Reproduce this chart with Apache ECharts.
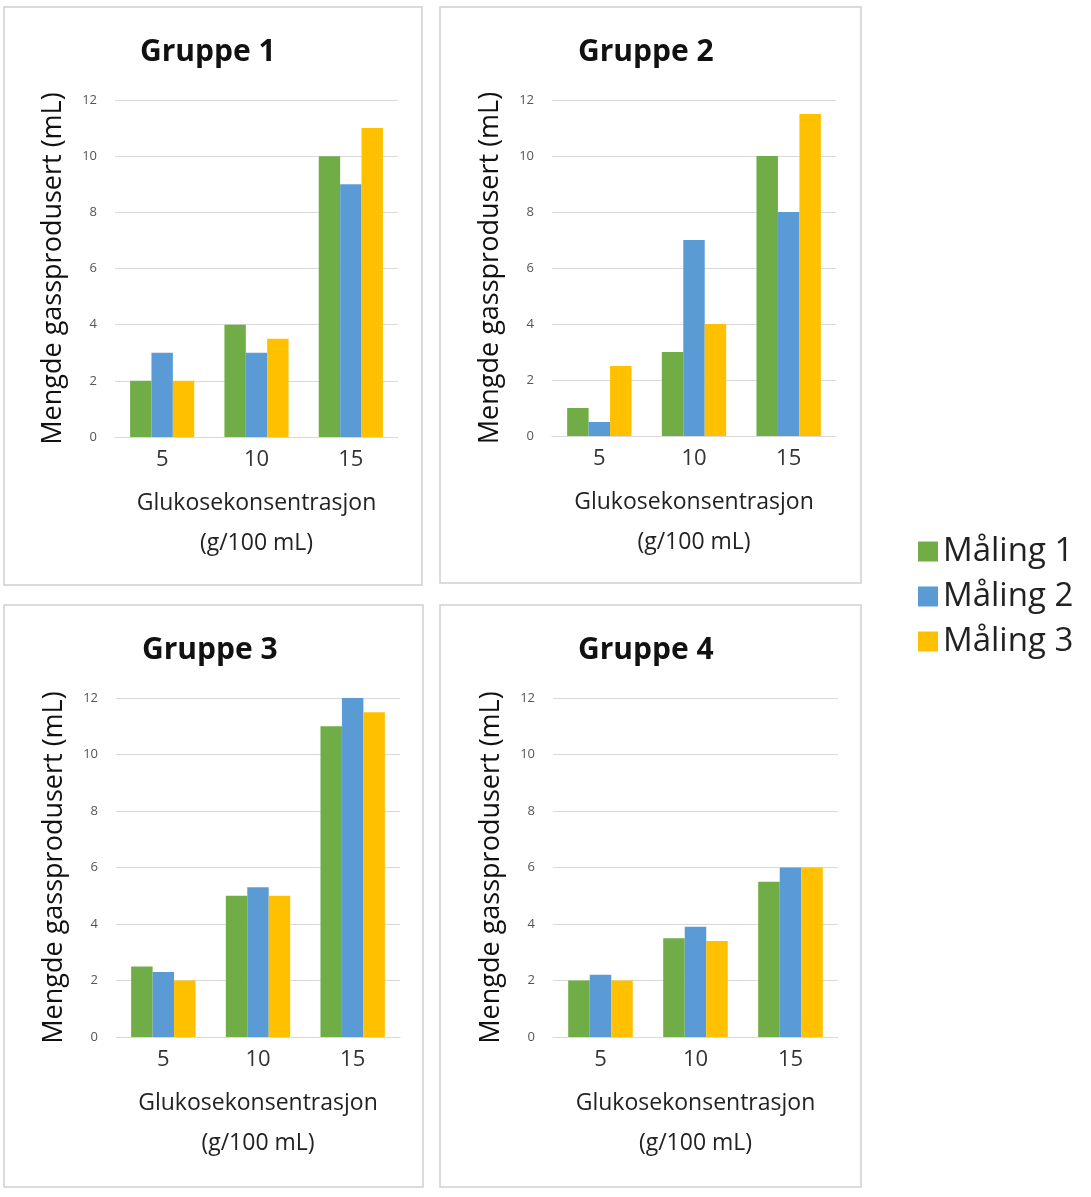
<!DOCTYPE html>
<html>
<head>
<meta charset="utf-8">
<script src="https://cdn.jsdelivr.net/npm/echarts@6/dist/echarts.min.js"></script>
<style>
  body { margin: 0; background: #fff; }
  #chart { width: 1091px; height: 1197px; }
</style>
</head>
<body>
<div id="chart"></div>
<script>
// data
var categories = ['5', '10', '15'];
var seriesNames = ['Måling 1', 'Måling 2', 'Måling 3'];
var groupTitles = ['Gruppe 1', 'Gruppe 2', 'Gruppe 3', 'Gruppe 4'];
var group1 = [[2, 4, 10], [3, 3, 9], [2, 3.5, 11]];
var group2 = [[1, 3, 10], [0.5, 7, 8], [2.5, 4, 11.5]];
var group3 = [[2.5, 5, 11], [2.3, 5.3, 12], [2, 5, 11.5]];
var group4 = [[2, 3.5, 5.5], [2.2, 3.9, 6], [2, 3.4, 6]];
var groups = [group1, group2, group3, group4];
var colors = ['#70AD47', '#5B9BD5', '#FFC000'];

// panel boxes and plot areas
var panels = [
    {x: 4, y: 7, w: 418, h: 578, gl: 115, gt: 100, gw: 283, gh: 337, tl: 135},
    {x: 440, y: 7, w: 421, h: 576, gl: 552, gt: 100, gw: 284, gh: 336, tl: 573},
    {x: 4, y: 605, w: 419, h: 582, gl: 116, gt: 698, gw: 284, gh: 339, tl: 137},
    {x: 440, y: 605, w: 421, h: 582, gl: 553, gt: 698, gw: 285, gh: 339, tl: 573}
];

var font = '"Open Sans", "DejaVu Sans", sans-serif';
var option = {
    color: colors,
    animation: false,
    textStyle: {fontFamily: font},
    title: [], grid: [], xAxis: [], yAxis: [], series: [],
    graphic: [],
    legend: {
        data: seriesNames, orient: 'vertical', left: 913, top: 530,
        itemWidth: 20, itemHeight: 20, itemGap: 12, icon: 'rect',
        textStyle: {fontSize: 33, color: '#222', fontFamily: font}
    }
};

for (var i = 0; i < 4; i++) {
    var p = panels[i];
    option.graphic.push({
        type: 'rect', shape: {x: p.x, y: p.y, width: p.w, height: p.h},
        style: {fill: 'none', stroke: '#d0d0d0', lineWidth: 1.5}, z: -1
    });
    option.title.push({
        text: groupTitles[i], left: p.tl, top: p.y + 25,
        textStyle: {fontSize: 30, fontWeight: 'bold', color: '#111', fontFamily: font}
    });
    option.grid.push({left: p.gl, top: p.gt, width: p.gw, height: p.gh});
    option.xAxis.push({
        type: 'category', gridIndex: i, data: categories,
        axisTick: {show: false},
        axisLine: {lineStyle: {color: '#d9d9d9'}},
        axisLabel: {fontSize: 22, color: '#333', margin: 12},
        name: 'Glukosekonsentrasjon\n(g/100 mL)', nameLocation: 'middle', nameGap: 46,
        nameTextStyle: {fontSize: 23, color: '#222', lineHeight: 40}
    });
    option.yAxis.push({
        type: 'value', gridIndex: i, min: 0, max: 12, interval: 2,
        axisLine: {show: false}, axisTick: {show: false},
        splitLine: {lineStyle: {color: '#d9d9d9'}},
        axisLabel: {fontSize: 13, color: '#555', margin: 18},
        name: 'Mengde gassprodusert (mL)', nameLocation: 'middle', nameGap: 48,
        nameTextStyle: {fontSize: 27, color: '#111'}
    });
    for (var s = 0; s < 3; s++) {
        option.series.push({
            type: 'bar', name: seriesNames[s], xAxisIndex: i, yAxisIndex: i,
            data: groups[i][s], barGap: '0%', barCategoryGap: '32%'
        });
    }
}

var chart = echarts.init(document.getElementById('chart'));
chart.setOption(option);
</script>
</body>
</html>
